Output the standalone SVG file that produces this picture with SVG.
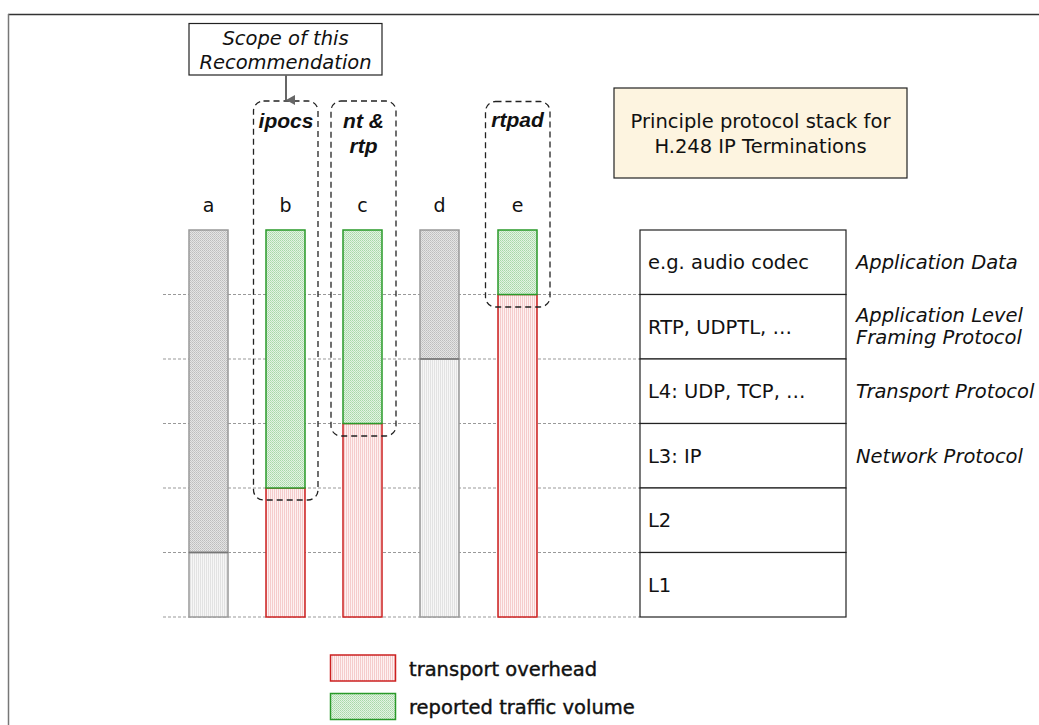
<svg xmlns="http://www.w3.org/2000/svg" width="1039" height="725" viewBox="0 0 1039 725">
  <defs>
    <!-- dithered fills for the stacked bars -->
    <pattern id="pGrayDense" width="2" height="2" patternUnits="userSpaceOnUse">
      <rect width="2" height="2" fill="#e4e4e4"/>
      <rect width="1" height="1" fill="#bdbdbd"/>
      <rect x="1" y="1" width="1" height="1" fill="#c8c8c8"/>
    </pattern>
    <pattern id="pGrayLight" width="2" height="2" patternUnits="userSpaceOnUse">
      <rect width="2" height="2" fill="#f6f6f6"/>
      <rect width="1" height="2" fill="#e2e2e2"/>
    </pattern>
    <pattern id="pGreen" width="2" height="2" patternUnits="userSpaceOnUse">
      <rect width="2" height="2" fill="#e3f3e3"/>
      <rect width="1" height="1" fill="#a8d8a8"/>
      <rect x="1" y="1" width="1" height="1" fill="#b8e0b8"/>
    </pattern>
    <pattern id="pRed" width="2" height="2" patternUnits="userSpaceOnUse">
      <rect width="2" height="2" fill="#fdf1f1"/>
      <rect width="1" height="2" fill="#f5cccc"/>
    </pattern>
    <marker id="arrowGray" markerWidth="10" markerHeight="9" refX="5" refY="9" orient="auto-start-reverse" markerUnits="userSpaceOnUse" viewBox="0 0 10 9">
      <path d="M0,0 L10,0 L5,9 Z" fill="#666"/>
    </marker>
  </defs>
  <style>
    .frame { stroke: #333; stroke-width: 1.5; fill: none; }
    .frameL { stroke: #777; stroke-width: 1.5; fill: none; }
    .layer { stroke: #999; stroke-width: 1; stroke-dasharray: 3 2; fill: none; }
    .scope { stroke: #222; stroke-width: 1.3; stroke-dasharray: 6 4; fill: none; }
    .grayBar { stroke: #999; stroke-width: 1.5; }
    .greenBar { stroke: #2a9a2a; stroke-width: 1.5; fill: url(#pGreen); }
    .redBar { stroke: #cc2020; stroke-width: 1.5; fill: url(#pRed); }
    .cell { stroke: #222; stroke-width: 1.2; fill: #fff; }
    .t { font-family: "DejaVu Sans", "Liberation Sans", sans-serif; font-size: 19.5px; fill: #111; }
    .ti { font-family: "DejaVu Sans", "Liberation Sans", sans-serif; font-size: 19.5px; font-style: italic; fill: #111; }
    .col { font-family: "DejaVu Sans", "Liberation Sans", sans-serif; font-size: 19px; fill: #111; text-anchor: middle; }
    .tag { font-family: "Liberation Sans", Arial, sans-serif; font-size: 21px; font-style: italic; font-weight: bold; fill: #111; }
    .leg { font-family: "DejaVu Sans", "Liberation Sans", sans-serif; font-size: 19.5px; fill: #111; stroke: #111; stroke-width: 0.4; }
    .mid { text-anchor: middle; }
  </style>

  <!-- page frame (top and left edges) -->
  <line class="frame" x1="8" y1="14.5" x2="1039" y2="14.5"/>
  <line class="frameL" x1="8.5" y1="14" x2="8.5" y2="725"/>

  <!-- layer guide lines -->
  <g id="layer-lines">
    <line class="layer" x1="163" y1="294.5" x2="640" y2="294.5"/>
    <line class="layer" x1="163" y1="359" x2="640" y2="359"/>
    <line class="layer" x1="163" y1="423.5" x2="640" y2="423.5"/>
    <line class="layer" x1="163" y1="488" x2="640" y2="488"/>
    <line class="layer" x1="163" y1="552.5" x2="640" y2="552.5"/>
    <line class="layer" x1="163" y1="617" x2="640" y2="617"/>
  </g>

  <!-- column a -->
  <g id="col-a">
    <text class="col" x="208.5" y="212">a</text>
    <rect class="grayBar" x="189" y="230" width="39" height="322.5" fill="url(#pGrayDense)"/>
    <rect class="grayBar" x="189" y="552.5" width="39" height="64.5" fill="url(#pGrayLight)" stroke="#aaa"/>
    <line x1="189" y1="552.5" x2="228" y2="552.5" stroke="#777" stroke-width="1.5"/>
  </g>

  <!-- column b -->
  <g id="col-b">
    <text class="col" x="285.5" y="212">b</text>
    <rect class="redBar" x="266" y="488" width="39" height="129"/>
    <rect class="greenBar" x="266" y="230" width="39" height="258"/>
  </g>

  <!-- column c -->
  <g id="col-c">
    <text class="col" x="362.5" y="212">c</text>
    <rect class="redBar" x="343" y="423.5" width="39" height="193.5"/>
    <rect class="greenBar" x="343" y="230" width="39" height="193.5"/>
  </g>

  <!-- column d -->
  <g id="col-d">
    <text class="col" x="439.5" y="212">d</text>
    <rect class="grayBar" x="420" y="230" width="39" height="129" fill="url(#pGrayDense)"/>
    <rect class="grayBar" x="420" y="359" width="39" height="258" fill="url(#pGrayLight)" stroke="#aaa"/>
    <line x1="420" y1="359" x2="459" y2="359" stroke="#777" stroke-width="1.5"/>
  </g>

  <!-- column e -->
  <g id="col-e">
    <text class="col" x="517.5" y="212">e</text>
    <rect class="redBar" x="498" y="294.5" width="39" height="322.5"/>
    <rect class="greenBar" x="498" y="230" width="39" height="64.5"/>
  </g>

  <!-- package scopes -->
  <g id="scope-ipocs">
    <rect class="scope" x="253.5" y="101" width="64.5" height="399" rx="10" ry="10"/>
    <text class="tag mid" x="286" y="128">ipocs</text>
  </g>
  <g id="scope-nt-rtp">
    <rect class="scope" x="331" y="101" width="65" height="335" rx="10" ry="10"/>
    <text class="tag mid" x="363.5" y="128">nt &amp;</text>
    <text class="tag mid" x="363.5" y="153">rtp</text>
  </g>
  <g id="scope-rtpad">
    <rect class="scope" x="485.5" y="101.5" width="64.5" height="205.5" rx="10" ry="10"/>
    <text class="tag mid" x="517.5" y="127">rtpad</text>
  </g>

  <!-- recommendation scope callout -->
  <g id="scope-note">
    <rect x="189" y="23.5" width="193" height="51.5" fill="#fff" stroke="#222" stroke-width="1.2"/>
    <text class="ti mid" x="285.5" y="45">Scope of this</text>
    <text class="ti mid" x="285.5" y="69">Recommendation</text>
  </g>

  <g id="connectors">
    <line x1="286" y1="75" x2="286" y2="100" stroke="#666" stroke-width="2" marker-end="url(#arrowGray)"/>
  </g>

  <!-- title box -->
  <g id="title">
    <rect x="614" y="88" width="293" height="90" fill="#fdf4e0" stroke="#222" stroke-width="1.2"/>
    <text class="t mid" x="760.5" y="128">Principle protocol stack for</text>
    <text class="t mid" x="760.5" y="153">H.248 IP Terminations</text>
  </g>

  <!-- protocol stack table -->
  <g id="stack">
    <rect class="cell" x="640" y="230" width="206" height="64.5"/>
    <rect class="cell" x="640" y="294.5" width="206" height="64.5"/>
    <rect class="cell" x="640" y="359" width="206" height="64.5"/>
    <rect class="cell" x="640" y="423.5" width="206" height="64.5"/>
    <rect class="cell" x="640" y="488" width="206" height="64.5"/>
    <rect class="cell" x="640" y="552.5" width="206" height="64.5"/>
    <text class="t" x="648" y="269">e.g. audio codec</text>
    <text class="t" x="648" y="334">RTP, UDPTL, …</text>
    <text class="t" x="648" y="398">L4: UDP, TCP, …</text>
    <text class="t" x="648" y="463">L3: IP</text>
    <text class="t" x="648" y="527">L2</text>
    <text class="t" x="648" y="592">L1</text>
  </g>

  <!-- layer descriptions -->
  <g id="layer-names">
    <text class="ti" x="856" y="269">Application Data</text>
    <text class="ti" x="856" y="322">Application Level</text>
    <text class="ti" x="856" y="344">Framing Protocol</text>
    <text class="ti" x="856" y="398">Transport Protocol</text>
    <text class="ti" x="856" y="463">Network Protocol</text>
  </g>

  <!-- legend -->
  <g id="legend">
    <rect class="redBar" x="330.5" y="655" width="65" height="26" stroke="#d06060"/>
    <text class="leg" x="409" y="676">transport overhead</text>
    <rect class="greenBar" x="330.5" y="693.5" width="65" height="26"/>
    <text class="leg" x="409" y="714">reported traffic volume</text>
  </g>
</svg>
